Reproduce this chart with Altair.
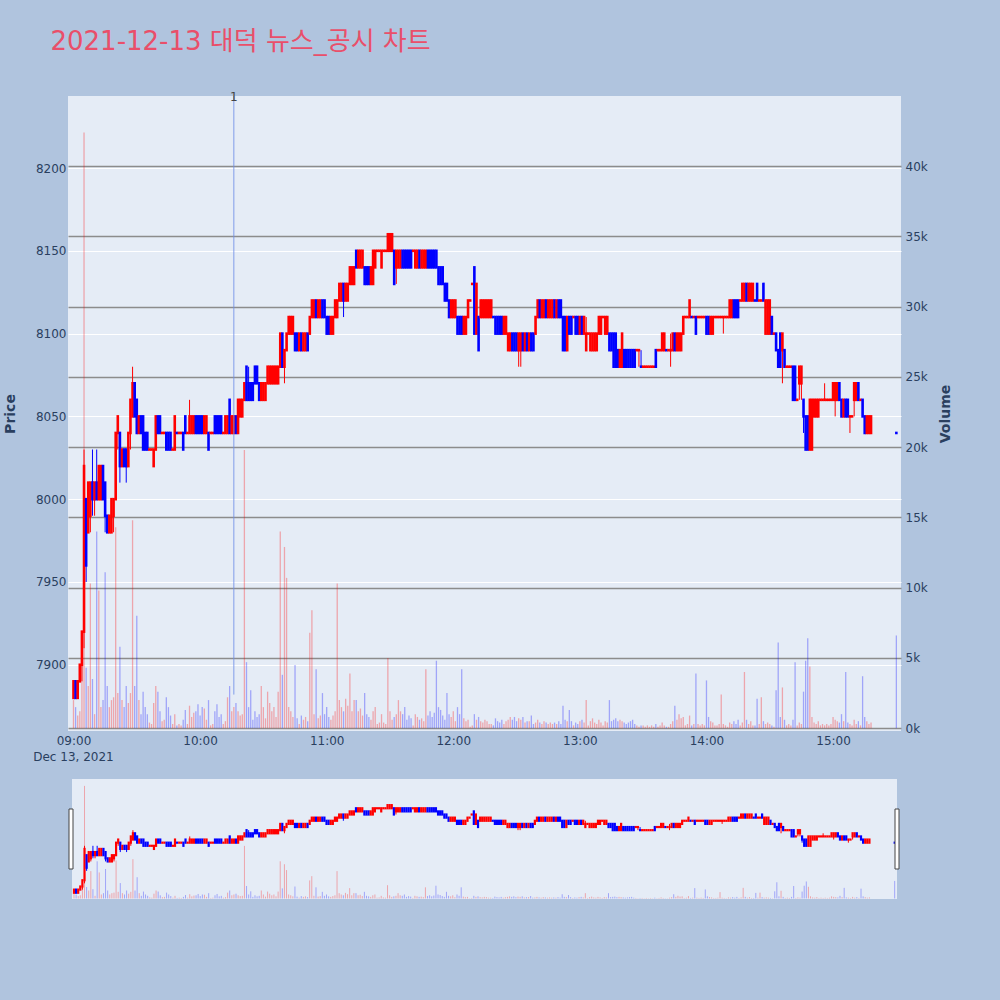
import altair as alt
import numpy as np
import pandas as pd

TITLE = "2021-12-13 대덕 뉴스_공시 차트"
DATE_LABEL = "Dec 13, 2021"

# One-minute candles: (time, open, high, low, close, volume)
BARS_09 = [
    ("09:00", 7880, 7890, 7880, 7890, 2000), ("09:01", 7890, 7890, 7880, 7880, 1500),
    ("09:02", 7880, 7890, 7880, 7890, 900), ("09:03", 7890, 7900, 7890, 7900, 1200),
    ("09:04", 7900, 7920, 7890, 7920, 5700), ("09:05", 7920, 8030, 7910, 8020, 42400),
    ("09:06", 8000, 8000, 7950, 7960, 4300), ("09:07", 7980, 8010, 7980, 8010, 3000),
    ("09:08", 7990, 8010, 7980, 8010, 10300), ("09:09", 8010, 8030, 7990, 8000, 3500),
    ("09:10", 8000, 8010, 7990, 8010, 1000), ("09:11", 8010, 8030, 8000, 8000, 14000),
    ("09:12", 8000, 8020, 8000, 8020, 9800), ("09:13", 8000, 8020, 8000, 8020, 1500),
    ("09:14", 8020, 8020, 8000, 8000, 2000), ("09:15", 8010, 8010, 7980, 7990, 11100),
    ("09:16", 7990, 7990, 7980, 7980, 3000), ("09:17", 7980, 7990, 7980, 7990, 1500),
    ("09:18", 7980, 8000, 7980, 8000, 2000), ("09:19", 7990, 8000, 7980, 8000, 2200),
    ("09:20", 8000, 8040, 8000, 8040, 14300), ("09:21", 8040, 8050, 8030, 8050, 2500),
    ("09:22", 8040, 8040, 8010, 8020, 5800), ("09:23", 8020, 8030, 8020, 8030, 2000),
    ("09:24", 8030, 8030, 8020, 8020, 1500), ("09:25", 8030, 8030, 8010, 8020, 3000),
    ("09:26", 8020, 8040, 8020, 8040, 1800), ("09:27", 8040, 8060, 8030, 8060, 2500),
    ("09:28", 8050, 8080, 8050, 8070, 14800), ("09:29", 8070, 8070, 8050, 8050, 3000),
    ("09:30", 8060, 8060, 8040, 8040, 8000), ("09:31", 8040, 8050, 8040, 8050, 2000),
    ("09:32", 8050, 8050, 8040, 8040, 1000), ("09:33", 8050, 8050, 8030, 8030, 2600),
    ("09:34", 8040, 8040, 8030, 8030, 1500), ("09:35", 8040, 8040, 8030, 8030, 1000),
    ("09:36", 8030, 8030, 8030, 8030, 400), ("09:37", 8030, 8030, 8030, 8030, 300),
    ("09:38", 8020, 8030, 8020, 8030, 1800), ("09:39", 8030, 8050, 8030, 8050, 3000),
    ("09:40", 8050, 8050, 8040, 8040, 2600), ("09:41", 8050, 8050, 8040, 8040, 1200),
    ("09:42", 8040, 8040, 8040, 8040, 500), ("09:43", 8040, 8040, 8040, 8040, 600),
    ("09:44", 8040, 8040, 8030, 8030, 2200), ("09:45", 8040, 8040, 8030, 8030, 1500),
    ("09:46", 8040, 8040, 8030, 8030, 900), ("09:47", 8030, 8030, 8030, 8030, 300),
    ("09:48", 8030, 8050, 8030, 8050, 1000), ("09:49", 8040, 8040, 8040, 8040, 200),
    ("09:50", 8040, 8040, 8040, 8040, 300), ("09:51", 8040, 8040, 8040, 8040, 200),
    ("09:52", 8040, 8040, 8030, 8030, 600), ("09:53", 8050, 8050, 8040, 8040, 1300),
    ("09:54", 8040, 8040, 8040, 8040, 300), ("09:55", 8040, 8060, 8040, 8050, 1600),
    ("09:56", 8040, 8050, 8040, 8050, 800), ("09:57", 8040, 8050, 8040, 8050, 1100),
    ("09:58", 8050, 8050, 8040, 8040, 1200), ("09:59", 8050, 8050, 8040, 8040, 1700),
]

BARS_10 = [
    ("10:00", 8050, 8050, 8040, 8040, 900), ("10:01", 8050, 8050, 8040, 8040, 1500),
    ("10:02", 8040, 8050, 8040, 8050, 1400), ("10:03", 8040, 8050, 8040, 8050, 600),
    ("10:04", 8040, 8040, 8030, 8030, 2000), ("10:05", 8040, 8040, 8040, 8040, 200),
    ("10:06", 8040, 8040, 8040, 8040, 300), ("10:07", 8050, 8050, 8040, 8040, 1200),
    ("10:08", 8050, 8050, 8040, 8040, 1700), ("10:09", 8050, 8050, 8040, 8040, 800),
    ("10:10", 8050, 8050, 8040, 8040, 1000), ("10:11", 8040, 8040, 8040, 8040, 300),
    ("10:12", 8040, 8050, 8040, 8050, 500), ("10:13", 8040, 8050, 8040, 8050, 2200),
    ("10:14", 8060, 8060, 8040, 8040, 3000), ("10:15", 8040, 8050, 8040, 8050, 1200),
    ("10:16", 8040, 8050, 8040, 8050, 1500), ("10:17", 8050, 8050, 8040, 8040, 1800),
    ("10:18", 8040, 8060, 8040, 8060, 1200), ("10:19", 8050, 8060, 8050, 8060, 900),
    ("10:20", 8050, 8060, 8050, 8060, 1000), ("10:21", 8060, 8070, 8060, 8070, 19800),
    ("10:22", 8080, 8080, 8060, 8060, 4700), ("10:23", 8070, 8080, 8060, 8060, 1500),
    ("10:24", 8070, 8070, 8060, 8060, 2700), ("10:25", 8070, 8070, 8060, 8060, 600),
    ("10:26", 8080, 8080, 8070, 8070, 1200), ("10:27", 8080, 8080, 8070, 8070, 800),
    ("10:28", 8070, 8070, 8060, 8060, 1000), ("10:29", 8060, 8070, 8060, 8070, 3000),
    ("10:30", 8060, 8070, 8060, 8070, 1500), ("10:31", 8060, 8070, 8060, 8070, 700),
    ("10:32", 8070, 8080, 8070, 8080, 2600), ("10:33", 8070, 8080, 8070, 8080, 1800),
    ("10:34", 8070, 8080, 8070, 8080, 1200), ("10:35", 8070, 8080, 8070, 8080, 1500),
    ("10:36", 8070, 8080, 8070, 8080, 800), ("10:37", 8070, 8080, 8070, 8080, 2600),
    ("10:38", 8080, 8100, 8080, 8100, 14000), ("10:39", 8100, 8100, 8080, 8080, 3800),
    ("10:40", 8080, 8090, 8070, 8090, 12900), ("10:41", 8090, 8100, 8090, 8100, 10700),
    ("10:42", 8100, 8110, 8100, 8110, 1500), ("10:43", 8100, 8110, 8100, 8110, 1200),
    ("10:44", 8100, 8110, 8100, 8110, 800), ("10:45", 8100, 8100, 8090, 8090, 4500),
    ("10:46", 8100, 8100, 8090, 8090, 700), ("10:47", 8090, 8100, 8090, 8100, 300),
    ("10:48", 8100, 8100, 8090, 8090, 900), ("10:49", 8090, 8100, 8090, 8100, 600),
    ("10:50", 8090, 8100, 8090, 8100, 800), ("10:51", 8100, 8100, 8090, 8090, 500),
    ("10:52", 8100, 8110, 8100, 8110, 6800), ("10:53", 8110, 8120, 8110, 8120, 8400),
    ("10:54", 8110, 8120, 8110, 8120, 1000), ("10:55", 8120, 8120, 8110, 8110, 4200),
    ("10:56", 8110, 8120, 8110, 8120, 700), ("10:57", 8110, 8120, 8110, 8120, 900),
    ("10:58", 8120, 8120, 8110, 8110, 2500), ("10:59", 8120, 8120, 8110, 8110, 1000),
]

BARS_11 = [
    ("11:00", 8110, 8110, 8100, 8100, 1500), ("11:01", 8110, 8110, 8100, 8100, 800),
    ("11:02", 8100, 8110, 8100, 8110, 600), ("11:03", 8100, 8110, 8100, 8110, 900),
    ("11:04", 8110, 8120, 8110, 8120, 1200), ("11:05", 8110, 8120, 8110, 8120, 10300),
    ("11:06", 8120, 8130, 8120, 8130, 2000), ("11:07", 8120, 8130, 8120, 8130, 1500),
    ("11:08", 8130, 8130, 8110, 8120, 1200), ("11:09", 8120, 8130, 8120, 8130, 2100),
    ("11:10", 8120, 8130, 8120, 8130, 1600), ("11:11", 8130, 8140, 8130, 8140, 3900),
    ("11:12", 8130, 8140, 8130, 8140, 1200), ("11:13", 8130, 8140, 8130, 8140, 2000),
    ("11:14", 8150, 8150, 8140, 8140, 2000), ("11:15", 8140, 8150, 8140, 8150, 1200),
    ("11:16", 8140, 8150, 8140, 8150, 1400), ("11:17", 8140, 8150, 8140, 8150, 900),
    ("11:18", 8140, 8140, 8130, 8130, 2500), ("11:19", 8140, 8140, 8130, 8130, 1000),
    ("11:20", 8140, 8140, 8130, 8130, 800), ("11:21", 8130, 8140, 8130, 8140, 600),
    ("11:22", 8130, 8150, 8130, 8150, 1200), ("11:23", 8140, 8150, 8140, 8150, 1500),
    ("11:24", 8150, 8150, 8150, 8150, 300), ("11:25", 8150, 8150, 8150, 8150, 400),
    ("11:26", 8140, 8150, 8140, 8150, 1000), ("11:27", 8150, 8150, 8150, 8150, 400),
    ("11:28", 8150, 8150, 8150, 8150, 300), ("11:29", 8150, 8160, 8150, 8160, 5000),
    ("11:30", 8150, 8160, 8150, 8160, 1200), ("11:31", 8150, 8160, 8150, 8160, 600),
    ("11:32", 8150, 8150, 8130, 8130, 800), ("11:33", 8140, 8150, 8130, 8150, 1000),
    ("11:34", 8140, 8150, 8140, 8150, 2000), ("11:35", 8140, 8150, 8140, 8150, 1200),
    ("11:36", 8150, 8150, 8140, 8140, 1000), ("11:37", 8150, 8150, 8140, 8140, 1500),
    ("11:38", 8150, 8150, 8140, 8140, 600), ("11:39", 8150, 8150, 8140, 8140, 900),
    ("11:40", 8150, 8150, 8140, 8140, 700), ("11:41", 8150, 8150, 8150, 8150, 200),
    ("11:42", 8140, 8150, 8140, 8150, 1000), ("11:43", 8140, 8150, 8140, 8150, 800),
    ("11:44", 8150, 8150, 8140, 8140, 600), ("11:45", 8140, 8150, 8140, 8150, 700),
    ("11:46", 8140, 8150, 8140, 8150, 500), ("11:47", 8140, 8150, 8140, 8150, 4200),
    ("11:48", 8150, 8150, 8140, 8140, 900), ("11:49", 8150, 8150, 8140, 8140, 1200),
    ("11:50", 8150, 8150, 8140, 8140, 800), ("11:51", 8150, 8150, 8140, 8140, 1100),
    ("11:52", 8150, 8150, 8140, 8140, 4800), ("11:53", 8140, 8140, 8130, 8130, 1500),
    ("11:54", 8140, 8140, 8130, 8130, 1300), ("11:55", 8140, 8140, 8130, 8130, 900),
    ("11:56", 8130, 8130, 8120, 8120, 600), ("11:57", 8130, 8130, 8120, 8120, 2500),
    ("11:58", 8120, 8120, 8110, 8110, 1000), ("11:59", 8110, 8120, 8110, 8120, 800),
]

BARS_12 = [
    ("12:00", 8110, 8120, 8110, 8120, 1200), ("12:01", 8110, 8120, 8110, 8120, 500),
    ("12:02", 8110, 8110, 8100, 8100, 1500), ("12:03", 8110, 8110, 8100, 8100, 1000),
    ("12:04", 8110, 8110, 8100, 8100, 4200), ("12:05", 8100, 8110, 8100, 8110, 700),
    ("12:06", 8100, 8110, 8100, 8110, 500), ("12:07", 8110, 8120, 8110, 8120, 600),
    ("12:08", 8120, 8120, 8120, 8120, 100), ("12:09", 8130, 8130, 8130, 8130, 200),
    ("12:10", 8140, 8140, 8100, 8100, 1000), ("12:11", 8100, 8130, 8100, 8130, 600),
    ("12:12", 8110, 8110, 8090, 8090, 800), ("12:13", 8110, 8120, 8110, 8120, 500),
    ("12:14", 8110, 8120, 8110, 8120, 400), ("12:15", 8110, 8120, 8110, 8120, 600),
    ("12:16", 8110, 8120, 8110, 8120, 500), ("12:17", 8110, 8120, 8110, 8120, 300),
    ("12:18", 8110, 8120, 8110, 8120, 300), ("12:19", 8110, 8110, 8110, 8110, 200),
    ("12:20", 8110, 8110, 8100, 8100, 700), ("12:21", 8110, 8110, 8100, 8100, 500),
    ("12:22", 8110, 8110, 8100, 8100, 400), ("12:23", 8110, 8110, 8100, 8100, 600),
    ("12:24", 8100, 8110, 8100, 8110, 300), ("12:25", 8100, 8110, 8100, 8110, 500),
    ("12:26", 8090, 8100, 8090, 8100, 600), ("12:27", 8090, 8100, 8090, 8100, 800),
    ("12:28", 8100, 8100, 8090, 8090, 600), ("12:29", 8100, 8100, 8090, 8090, 800),
    ("12:30", 8100, 8100, 8090, 8090, 500), ("12:31", 8090, 8100, 8080, 8100, 700),
    ("12:32", 8090, 8100, 8080, 8100, 600), ("12:33", 8100, 8100, 8090, 8090, 800),
    ("12:34", 8090, 8100, 8090, 8100, 400), ("12:35", 8100, 8100, 8090, 8090, 500),
    ("12:36", 8090, 8100, 8090, 8100, 500), ("12:37", 8100, 8100, 8090, 8090, 900),
    ("12:38", 8100, 8100, 8090, 8090, 300), ("12:39", 8100, 8110, 8100, 8110, 400),
    ("12:40", 8110, 8120, 8110, 8120, 600), ("12:41", 8120, 8120, 8110, 8110, 400),
    ("12:42", 8110, 8120, 8110, 8120, 300), ("12:43", 8110, 8120, 8110, 8120, 500),
    ("12:44", 8120, 8120, 8110, 8110, 400), ("12:45", 8110, 8120, 8110, 8120, 300),
    ("12:46", 8110, 8120, 8110, 8120, 400), ("12:47", 8110, 8120, 8110, 8120, 300),
    ("12:48", 8120, 8120, 8110, 8110, 400), ("12:49", 8110, 8120, 8110, 8120, 300),
    ("12:50", 8120, 8120, 8110, 8110, 500), ("12:51", 8120, 8120, 8110, 8110, 300),
    ("12:52", 8110, 8110, 8090, 8090, 1600), ("12:53", 8110, 8110, 8090, 8090, 600),
    ("12:54", 8090, 8110, 8090, 8110, 500), ("12:55", 8110, 8110, 8100, 8100, 1300),
    ("12:56", 8110, 8110, 8100, 8100, 500), ("12:57", 8110, 8110, 8110, 8110, 200),
    ("12:58", 8110, 8110, 8100, 8100, 400), ("12:59", 8110, 8110, 8100, 8100, 300),
]

BARS_13 = [
    ("13:00", 8100, 8110, 8100, 8110, 500), ("13:01", 8110, 8110, 8100, 8100, 600),
    ("13:02", 8100, 8110, 8100, 8110, 400), ("13:03", 8090, 8110, 8090, 8100, 2000),
    ("13:04", 8100, 8100, 8100, 8100, 200), ("13:05", 8090, 8100, 8090, 8100, 500),
    ("13:06", 8090, 8100, 8090, 8100, 700), ("13:07", 8090, 8100, 8090, 8100, 400),
    ("13:08", 8090, 8100, 8090, 8100, 300), ("13:09", 8100, 8110, 8100, 8110, 600),
    ("13:10", 8100, 8110, 8100, 8110, 400), ("13:11", 8110, 8110, 8110, 8110, 200),
    ("13:12", 8100, 8110, 8100, 8110, 500), ("13:13", 8100, 8110, 8100, 8110, 400),
    ("13:14", 8100, 8100, 8090, 8090, 2000), ("13:15", 8100, 8100, 8090, 8090, 500),
    ("13:16", 8100, 8100, 8080, 8080, 600), ("13:17", 8100, 8100, 8080, 8080, 700),
    ("13:18", 8090, 8090, 8080, 8080, 500), ("13:19", 8080, 8090, 8080, 8090, 600),
    ("13:20", 8080, 8100, 8080, 8100, 500), ("13:21", 8090, 8090, 8080, 8080, 400),
    ("13:22", 8090, 8090, 8080, 8080, 300), ("13:23", 8090, 8090, 8080, 8080, 400),
    ("13:24", 8090, 8090, 8080, 8080, 500), ("13:25", 8090, 8090, 8080, 8080, 600),
    ("13:26", 8090, 8090, 8080, 8080, 300), ("13:27", 8090, 8090, 8090, 8090, 200),
    ("13:28", 8090, 8090, 8080, 8090, 100), ("13:29", 8080, 8090, 8080, 8080, 200),
    ("13:30", 8080, 8080, 8080, 8080, 200), ("13:31", 8080, 8080, 8080, 8080, 100),
    ("13:32", 8080, 8080, 8080, 8080, 200), ("13:33", 8080, 8080, 8080, 8080, 100),
    ("13:34", 8080, 8080, 8080, 8080, 200), ("13:35", 8080, 8080, 8080, 8080, 100),
    ("13:36", 8090, 8090, 8080, 8080, 300), ("13:37", 8090, 8090, 8090, 8090, 100),
    ("13:38", 8090, 8090, 8090, 8090, 200), ("13:39", 8090, 8100, 8090, 8100, 400),
    ("13:40", 8090, 8100, 8090, 8100, 200), ("13:41", 8090, 8090, 8090, 8090, 100),
    ("13:42", 8090, 8090, 8090, 8090, 100), ("13:43", 8090, 8100, 8080, 8090, 300),
    ("13:44", 8090, 8100, 8090, 8100, 500), ("13:45", 8100, 8100, 8090, 8090, 1600),
    ("13:46", 8090, 8100, 8090, 8100, 600), ("13:47", 8090, 8100, 8090, 8100, 1000),
    ("13:48", 8090, 8100, 8090, 8100, 700), ("13:49", 8100, 8110, 8100, 8110, 800),
    ("13:50", 8110, 8110, 8110, 8110, 200), ("13:51", 8110, 8110, 8110, 8110, 300),
    ("13:52", 8110, 8120, 8110, 8120, 900), ("13:53", 8110, 8110, 8110, 8110, 200),
    ("13:54", 8110, 8110, 8110, 8110, 300), ("13:55", 8110, 8110, 8100, 8100, 3900),
    ("13:56", 8110, 8110, 8110, 8110, 300), ("13:57", 8110, 8110, 8110, 8110, 200),
    ("13:58", 8110, 8110, 8110, 8110, 300), ("13:59", 8110, 8110, 8110, 8110, 200),
]

BARS_14 = [
    ("14:00", 8110, 8110, 8100, 8100, 3400), ("14:01", 8110, 8110, 8100, 8100, 800),
    ("14:02", 8100, 8110, 8100, 8110, 500), ("14:03", 8100, 8110, 8100, 8110, 400),
    ("14:04", 8110, 8110, 8110, 8110, 200), ("14:05", 8110, 8110, 8110, 8110, 200),
    ("14:06", 8110, 8110, 8110, 8110, 300), ("14:07", 8110, 8110, 8110, 8110, 2400),
    ("14:08", 8110, 8110, 8100, 8110, 300), ("14:09", 8110, 8110, 8110, 8110, 200),
    ("14:10", 8110, 8110, 8110, 8110, 100), ("14:11", 8110, 8120, 8110, 8120, 400),
    ("14:12", 8110, 8120, 8110, 8120, 300), ("14:13", 8120, 8120, 8110, 8110, 500),
    ("14:14", 8120, 8120, 8110, 8110, 300), ("14:15", 8120, 8120, 8110, 8110, 600),
    ("14:16", 8120, 8120, 8120, 8120, 200), ("14:17", 8120, 8130, 8120, 8130, 400),
    ("14:18", 8120, 8130, 8120, 8130, 4000), ("14:19", 8130, 8130, 8120, 8120, 600),
    ("14:20", 8120, 8130, 8120, 8130, 300), ("14:21", 8120, 8130, 8120, 8130, 500),
    ("14:22", 8120, 8130, 8120, 8130, 200), ("14:23", 8120, 8120, 8120, 8120, 200),
    ("14:24", 8130, 8130, 8120, 8120, 2100), ("14:25", 8120, 8120, 8120, 8120, 300),
    ("14:26", 8120, 8120, 8120, 8120, 2200), ("14:27", 8130, 8130, 8120, 8120, 500),
    ("14:28", 8100, 8120, 8100, 8120, 300), ("14:29", 8100, 8120, 8100, 8120, 400),
    ("14:30", 8100, 8120, 8100, 8120, 300), ("14:31", 8110, 8110, 8100, 8100, 200),
    ("14:32", 8100, 8100, 8100, 8100, 100), ("14:33", 8100, 8100, 8090, 8090, 2700),
    ("14:34", 8090, 8090, 8080, 8080, 6100), ("14:35", 8100, 8100, 8080, 8080, 800),
    ("14:36", 8090, 8100, 8070, 8100, 2900), ("14:37", 8090, 8090, 8080, 8080, 600),
    ("14:38", 8080, 8080, 8080, 8080, 200), ("14:39", 8080, 8080, 8080, 8080, 300),
    ("14:40", 8080, 8080, 8080, 8080, 200), ("14:41", 8080, 8080, 8060, 8060, 600),
    ("14:42", 8080, 8080, 8060, 8060, 4700), ("14:43", 8060, 8060, 8060, 8060, 200),
    ("14:44", 8070, 8080, 8060, 8080, 400), ("14:45", 8070, 8080, 8060, 8080, 300),
    ("14:46", 8060, 8060, 8040, 8050, 2600), ("14:47", 8050, 8050, 8030, 8030, 4800),
    ("14:48", 8050, 8050, 8030, 8030, 6400), ("14:49", 8030, 8060, 8030, 8060, 4400),
    ("14:50", 8030, 8060, 8030, 8060, 800), ("14:51", 8050, 8060, 8050, 8060, 400),
    ("14:52", 8050, 8060, 8050, 8060, 300), ("14:53", 8050, 8060, 8050, 8060, 500),
    ("14:54", 8060, 8060, 8060, 8060, 200), ("14:55", 8060, 8060, 8060, 8060, 300),
    ("14:56", 8060, 8070, 8060, 8060, 200), ("14:57", 8060, 8060, 8060, 8060, 300),
    ("14:58", 8060, 8060, 8060, 8060, 200), ("14:59", 8060, 8060, 8060, 8060, 300),
]

BARS_15 = [
    ("15:00", 8060, 8070, 8060, 8070, 800), ("15:01", 8060, 8070, 8050, 8070, 600),
    ("15:02", 8060, 8070, 8060, 8070, 500), ("15:03", 8070, 8070, 8060, 8060, 400),
    ("15:04", 8060, 8060, 8050, 8050, 1000), ("15:05", 8050, 8060, 8050, 8060, 500),
    ("15:06", 8060, 8060, 8050, 8050, 4000), ("15:07", 8060, 8060, 8050, 8050, 400),
    ("15:08", 8050, 8050, 8040, 8050, 300), ("15:09", 8050, 8050, 8050, 8050, 200),
    ("15:10", 8060, 8070, 8050, 8070, 600), ("15:11", 8060, 8070, 8060, 8070, 300),
    ("15:12", 8070, 8070, 8060, 8060, 500), ("15:13", 8060, 8060, 8060, 8060, 200),
    ("15:14", 8060, 8060, 8050, 8050, 3700), ("15:15", 8050, 8050, 8040, 8040, 800),
    ("15:16", 8040, 8050, 8040, 8050, 500), ("15:17", 8040, 8050, 8040, 8050, 300),
    ("15:18", 8040, 8050, 8040, 8050, 400), ("15:30", 8040, 8040, 8040, 8040, 6600),
]

# News / disclosure marker
NEWS_TIME = "10:16"
NEWS_LABEL = "1"
NEWS_LINE_LOW = 7882

HOUR_TICKS = ["09:00", "10:00", "11:00", "12:00", "13:00", "14:00", "15:00"]
PRICE_DOMAIN = [7860, 8243.5]
VOLUME_DOMAIN = [-200, 45000]
PRICE_TICKS = [7900, 7950, 8000, 8050, 8100, 8150, 8200]
VOLUME_TICKS = [0, 5000, 10000, 15000, 20000, 25000, 30000, 35000, 40000]

UP, DOWN = "#FF0000", "#0000FF"
TEXT = "#2a3f5f"
FONT = "DejaVu Sans"
PAGE_BG = "#B0C4DE"
PLOT_BG = "#E5ECF6"


def minutes(hm):
    """Minutes after the 09:00 open."""
    h, m = hm.split(":")
    return (int(h) - 9) * 60 + int(m)


rows = BARS_09 + BARS_10 + BARS_11 + BARS_12 + BARS_13 + BARS_14 + BARS_15
df = pd.DataFrame(rows, columns=["hm", "open", "high", "low", "close", "volume"])
df["t"] = df["hm"].map(minutes)
df["zero"] = 0
prev_close = df["close"].shift(1).fillna(df["open"])
df["dir"] = np.where(
    df["close"] > df["open"], "up",
    np.where(df["close"] < df["open"], "down",
             np.where(df["close"] >= prev_close, "up", "down")))

news = pd.DataFrame({
    "t": [minutes(NEWS_TIME)], "top": [PRICE_DOMAIN[1]],
    "bottom": [NEWS_LINE_LOW], "label": [NEWS_LABEL],
})
date_df = pd.DataFrame({"t": [0], "label": [DATE_LABEL]})
tick_values = [minutes(hm) for hm in HOUR_TICKS]

color = alt.Color("dir:N", scale=alt.Scale(domain=["up", "down"], range=[UP, DOWN]), legend=None)

# ---------------- main panel ----------------
main_x_scale = alt.Scale(domain=[-2.6, 392.2], nice=False, zero=False)
x_main = alt.X(
    "t:Q",
    scale=main_x_scale,
    axis=alt.Axis(
        title="", grid=False, domain=False, ticks=False, values=tick_values,
        labelExpr="(datum.value < 60 ? '0' : '') + (9 + floor(datum.value / 60)) + ':00'",
        labelPadding=4, labelFont=FONT, labelFontSize=12,
        labelColor=TEXT, labelFlush=False,
    ),
)
price_scale = alt.Scale(domain=PRICE_DOMAIN, nice=False, zero=False)
vol_scale = alt.Scale(domain=VOLUME_DOMAIN, nice=False)

price_axis = alt.Axis(
    orient="left", values=PRICE_TICKS, format="d", grid=True, gridColor="#FFFFFF",
    gridWidth=1, domain=False, ticks=False, labelPadding=2, labelFont=FONT,
    labelFontSize=12, labelColor=TEXT, title="Price", titleFont=FONT,
    titleFontSize=14, titleFontWeight="bold", titleColor=TEXT, titlePadding=18,
)
vol_axis = alt.Axis(
    orient="right", values=VOLUME_TICKS, format="~s", grid=True, gridColor="#8C8C8C",
    gridWidth=1.5, domain=False, ticks=False, labelPadding=4, labelFont=FONT,
    labelFontSize=12, labelColor=TEXT, title="Volume", titleFont=FONT,
    titleFontSize=14, titleFontWeight="bold", titleColor=TEXT, titlePadding=11,
    titleAngle=270, titleBaseline="top",
)

base = alt.Chart(df)

volume = base.mark_rule(strokeWidth=1.3, opacity=0.3).encode(
    x=x_main,
    y=alt.Y("volume:Q", scale=vol_scale, axis=vol_axis),
    y2="zero:Q",
    color=color,
)
wick = base.mark_rule(strokeWidth=1).encode(
    x=x_main,
    y=alt.Y("low:Q", scale=price_scale, axis=price_axis),
    y2="high:Q",
    color=color,
)
body = base.mark_rule(strokeWidth=2.6, strokeCap="square").encode(
    x="t:Q", y="open:Q", y2="close:Q", color=color,
)
news_line = alt.Chart(news).mark_rule(color="#6F8FE8", strokeWidth=1, opacity=0.85).encode(
    x="t:Q", y="top:Q", y2="bottom:Q",
)
news_text = alt.Chart(news).mark_text(
    color="#444444", font=FONT, fontSize=12, baseline="middle", dy=1,
).encode(x="t:Q", y="top:Q", text="label:N")
date_text = alt.Chart(date_df).mark_text(
    color=TEXT, font=FONT, fontSize=12, baseline="middle",
).encode(x="t:Q", y=alt.value(661), text="label:N")

price_layers = alt.layer(wick, body, news_line, news_text, date_text)

main = alt.layer(volume, price_layers).resolve_scale(y="independent").properties(
    width=833, height=635,
    title=alt.TitleParams(
        TITLE, anchor="start", dx=47, offset=36,
        font="DejaVu Sans, Noto Sans CJK KR", fontSize=26, fontWeight="normal",
        color="#E94F6A",
    ),
)

# ---------------- range slider ----------------
x_slider = alt.X("t:Q", scale=alt.Scale(domain=[-2.85, 391.1], nice=False, zero=False), axis=None)
sprice = alt.Scale(domain=PRICE_DOMAIN, nice=False, zero=False)
svol = alt.Scale(domain=VOLUME_DOMAIN, nice=False)

s_volume = base.mark_rule(strokeWidth=1, opacity=0.3).encode(
    x=x_slider, y=alt.Y("volume:Q", scale=svol, axis=None), y2="zero:Q", color=color,
)
s_wick = base.mark_rule(strokeWidth=1).encode(
    x=x_slider, y=alt.Y("low:Q", scale=sprice, axis=None), y2="high:Q", color=color,
)
s_body = base.mark_rule(strokeWidth=2.2, strokeCap="square").encode(
    x="t:Q", y="open:Q", y2="close:Q", color=color,
)

# slider track starts a few pixels right of the main plot edge
frame_df = pd.DataFrame({"part": ["edge"]})
track_edge = alt.Chart(frame_df).mark_rect(fill=PAGE_BG).encode(
    x=alt.value(0), x2=alt.value(4), y=alt.value(0), y2=alt.value(120),
)
# grab handles at both ends of the slider
handle_l = alt.Chart(frame_df).mark_rect(fill="#FFFFFF", stroke="#444444", strokeWidth=1).encode(
    x=alt.value(1), x2=alt.value(5), y=alt.value(30), y2=alt.value(90),
)
handle_r = alt.Chart(frame_df).mark_rect(fill="#FFFFFF", stroke="#444444", strokeWidth=1).encode(
    x=alt.value(827), x2=alt.value(831), y=alt.value(30), y2=alt.value(90),
)

slider = alt.layer(
    track_edge, s_volume, alt.layer(s_wick, s_body), handle_l, handle_r
).resolve_scale(y="independent").properties(width=829, height=120)

chart = alt.vconcat(main, slider, spacing=16).properties(
    background=PAGE_BG,
    padding={"left": 3, "top": 29, "right": 47, "bottom": 101},
).configure_view(strokeWidth=0, fill=PLOT_BG)

chart.save("out.html", embed_options={"renderer": "svg", "actions": False})
